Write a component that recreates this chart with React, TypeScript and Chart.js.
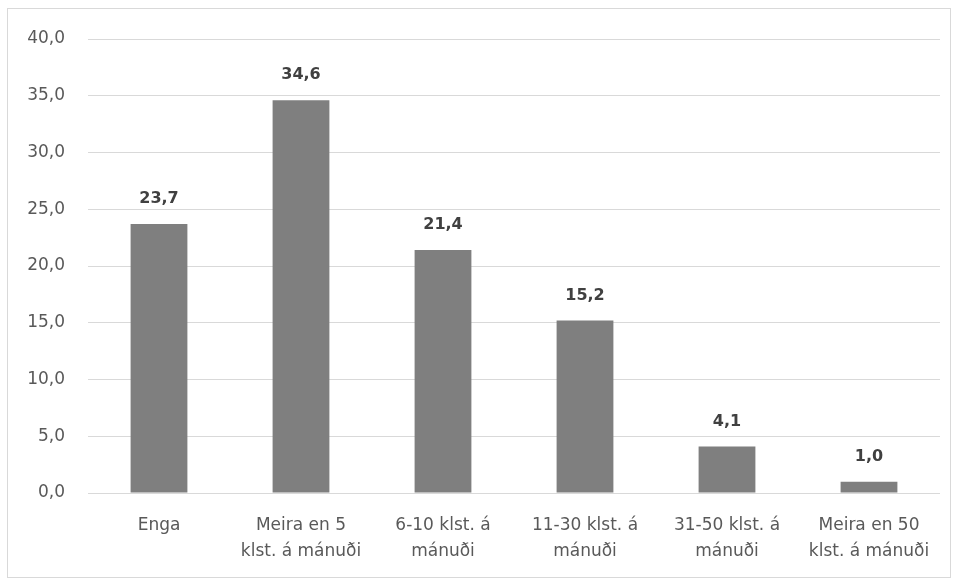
import React, { useEffect, useRef } from "react";
import { Chart, registerables } from "chart.js";

Chart.register(...registerables);

const categories: string[][] = [
  ["Enga"],
  ["Meira en 5", "klst. á mánuði"],
  ["6-10 klst. á", "mánuði"],
  ["11-30 klst. á", "mánuði"],
  ["31-50 klst. á", "mánuði"],
  ["Meira en 50", "klst. á mánuði"],
];
const values: number[] = [23.7, 34.6, 21.4, 15.2, 4.1, 1.0];
const yMin = 0;
const yMax = 40;
const yStep = 5;

const fmt = (v: number) => v.toFixed(1).replace(".", ",");
const FONT = "'DejaVu Sans', sans-serif";

const dataLabels = {
  id: "dataLabels",
  afterDatasetsDraw(chart: any) {
    const ctx = chart.ctx;
    const meta = chart.getDatasetMeta(0);
    ctx.save();
    ctx.font = `bold 16px ${FONT}`;
    ctx.fillStyle = "#404040";
    ctx.textAlign = "center";
    ctx.textBaseline = "middle";
    meta.data.forEach((bar: any, i: number) => {
      ctx.fillText(fmt(values[i]), bar.x, bar.y - 25);
    });
    ctx.restore();
  },
};

export default function App() {
  const ref = useRef<HTMLCanvasElement | null>(null);
  useEffect(() => {
    if (!ref.current) return;
    const chart = new Chart(ref.current, {
      type: "bar",
      data: {
        labels: categories,
        datasets: [
          {
            data: values,
            backgroundColor: "#7f7f7f",
            borderWidth: 0,
            categoryPercentage: 1,
            barPercentage: 0.4,
          },
        ],
      },
      options: {
        responsive: false,
        animation: false,
        layout: { padding: { top: 30, right: 10, bottom: 0, left: 0 } },
        plugins: { legend: { display: false }, tooltip: { enabled: false } },
        scales: {
          x: {
            grid: { display: false, drawTicks: false },
            border: { display: false },
            ticks: {
              color: "#595959",
              font: { family: FONT, size: 17, lineHeight: 1.5 },
              padding: 20,
              maxRotation: 0,
              autoSkip: false,
            },
            afterFit(scale: any) {
              scale.height = 84;
              scale.paddingLeft = 0;
              scale.paddingRight = 0;
            },
          },
          y: {
            min: yMin,
            max: yMax,
            grid: { color: "#d9d9d9", drawTicks: false },
            border: { display: false },
            ticks: {
              stepSize: yStep,
              color: "#595959",
              font: { family: FONT, size: 17 },
              padding: 23,
              callback: (v: any) => fmt(Number(v)),
            },
            afterFit(scale: any) {
              scale.width = 80;
              scale.paddingTop = 0;
              scale.paddingBottom = 0;
            },
          },
        },
      },
      plugins: [dataLabels],
    });
    return () => chart.destroy();
  }, []);
  return (
    <div
      style={{
        position: "absolute",
        left: 7,
        top: 8,
        width: 944,
        height: 570,
        border: "1px solid #d9d9d9",
        boxSizing: "border-box",
        background: "#fff",
      }}
    >
      <canvas ref={ref} width={942} height={568} style={{ display: "block" }} />
    </div>
  );
}
